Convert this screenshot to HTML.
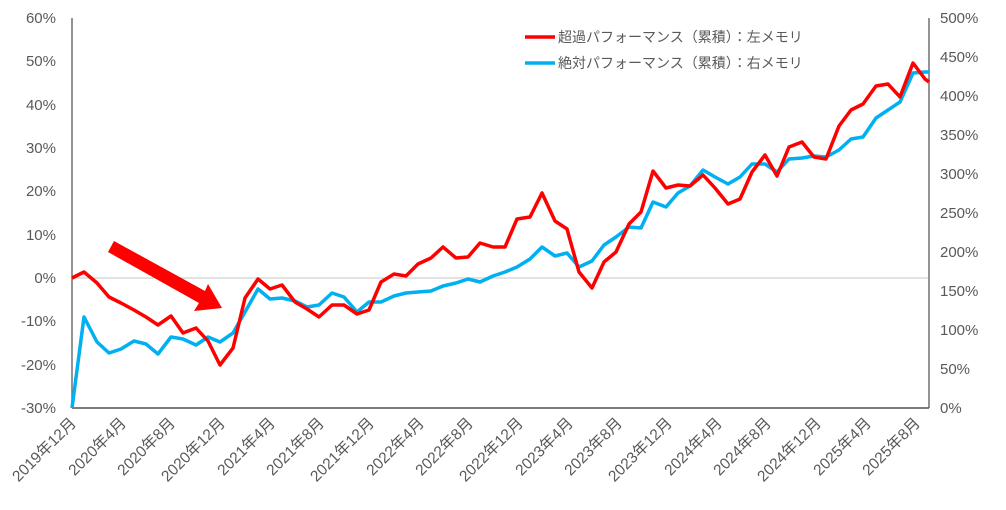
<!DOCTYPE html>
<html><head><meta charset="utf-8"><style>
body{margin:0;background:#fff;}
svg{display:block;font-family:"Liberation Sans","Noto Sans CJK JP",sans-serif;}
</style></head><body>
<svg width="1006" height="510" viewBox="0 0 1006 510">
<line x1="72" y1="278" x2="929" y2="278" stroke="#d9d9d9" stroke-width="1.5"/>
<g fill="#595959" font-size="15" text-anchor="end">
<text x="56" y="23">60%</text><text x="56" y="66">50%</text><text x="56" y="110">40%</text><text x="56" y="153">30%</text><text x="56" y="196">20%</text><text x="56" y="240">10%</text><text x="56" y="283">0%</text><text x="56" y="326">-10%</text><text x="56" y="370">-20%</text><text x="56" y="413">-30%</text>
</g>
<g fill="#595959" font-size="15" text-anchor="start">
<text x="940" y="23">500%</text><text x="940" y="101">400%</text><text x="940" y="179">300%</text><text x="940" y="257">200%</text><text x="940" y="335">100%</text><text x="940" y="413">0%</text>
<text x="940" y="62">450%</text><text x="940" y="140">350%</text><text x="940" y="218">250%</text><text x="940" y="296">150%</text><text x="940" y="374">50%</text>
</g>
<line x1="72" y1="18" x2="72" y2="408" stroke="#707070" stroke-width="1.5"/>
<line x1="929" y1="18" x2="929" y2="408" stroke="#707070" stroke-width="1.5"/>
<line x1="72" y1="408" x2="929" y2="408" stroke="#505050" stroke-width="1.5"/>
<g fill="#595959" font-size="15.5" text-anchor="end">
<text transform="translate(77,424) rotate(-45)">2019年12月</text>
<text transform="translate(127,424) rotate(-45)">2020年4月</text>
<text transform="translate(176,424) rotate(-45)">2020年8月</text>
<text transform="translate(226,424) rotate(-45)">2020年12月</text>
<text transform="translate(276,424) rotate(-45)">2021年4月</text>
<text transform="translate(325,424) rotate(-45)">2021年8月</text>
<text transform="translate(375,424) rotate(-45)">2021年12月</text>
<text transform="translate(425,424) rotate(-45)">2022年4月</text>
<text transform="translate(474,424) rotate(-45)">2022年8月</text>
<text transform="translate(524,424) rotate(-45)">2022年12月</text>
<text transform="translate(574,424) rotate(-45)">2023年4月</text>
<text transform="translate(623,424) rotate(-45)">2023年8月</text>
<text transform="translate(673,424) rotate(-45)">2023年12月</text>
<text transform="translate(723,424) rotate(-45)">2024年4月</text>
<text transform="translate(772,424) rotate(-45)">2024年8月</text>
<text transform="translate(822,424) rotate(-45)">2024年12月</text>
<text transform="translate(872,424) rotate(-45)">2025年4月</text>
<text transform="translate(921,424) rotate(-45)">2025年8月</text>
</g>
<polyline fill="none" stroke="#00b0f0" stroke-width="3.5" stroke-linejoin="round" points="72,408 84,317 97,342 109,353 121,349 134,341 146,344 158,354 171,337 183,339 196,345 208,337 220,342 233,333 245,312 258,289 270,299 282,298 295,301 307,307 319,305 332,293 344,297 357,312 369,302 381,302 394,296 406,293 418,292 431,291 443,286 456,283 468,279 480,282 493,276 505,272 517,267 530,259 542,247 555,256 567,253 579,267 592,261 604,245 616,237 629,227 641,228 653,202 666,207 678,193 690,186 703,170 715,177 728,184 740,177 752,164 765,164 777,172 789,159 802,158 814,156 826,157 839,150 851,139 863,137 876,118 888,110 900,102 913,73 925,72 929,72"/>
<polyline fill="none" stroke="#ff0000" stroke-width="3.5" stroke-linejoin="round" points="72,278 84,272 97,283 109,297 121,303 134,310 146,317 158,325 171,316 183,333 196,328 208,341 220,365 233,348 245,298 258,279 270,289 282,285 295,302 307,309 319,317 332,305 344,305 357,314 369,310 381,282 394,274 406,276 418,264 431,258 443,247 456,258 468,257 480,243 493,247 505,247 517,219 530,217 542,193 555,221 567,229 579,272 592,288 604,262 616,252 629,224 641,212 653,171 666,188 678,185 690,186 703,175 715,188 728,204 740,199 752,172 765,155 777,176 789,147 802,142 814,157 826,159 839,126 851,110 863,104 876,86 888,84 900,97 913,63 925,79 929,82"/>
<polygon fill="#ff0000" points="108,252 114,241 205,291 208,284 222,308 194,311 199,303"/>
<line x1="525" y1="37" x2="555" y2="37" stroke="#ff0000" stroke-width="3.5"/>
<line x1="525" y1="63" x2="555" y2="63" stroke="#00b0f0" stroke-width="3.5"/>
<g fill="#595959" font-size="14">
<text x="558" y="42">超過パフォーマンス（累積）：左メモリ</text>
<text x="558" y="68">絶対パフォーマンス（累積）：右メモリ</text>
</g>
</svg>
</body></html>
